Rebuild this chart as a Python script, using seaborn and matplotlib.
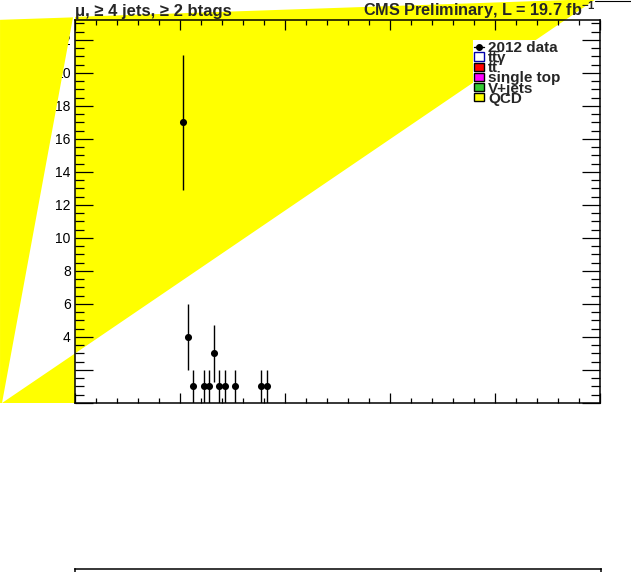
import matplotlib
matplotlib.use("Agg")
import matplotlib.pyplot as plt
from matplotlib.lines import Line2D
from matplotlib.patches import Patch
from matplotlib.ticker import MultipleLocator
import numpy as np
import pandas as pd
import seaborn as sns

# 2012 data: bin centres, counts and their error bars
bin_centres = [102.5, 107.5, 112.5, 122.5, 127.5, 132.5, 137.5, 142.5, 152.5, 177.5, 182.5]
counts = [17, 4, 1, 1, 1, 3, 1, 1, 1, 1, 1]
count_err = [4.1, 2.0, 1.0, 1.0, 1.0, 1.7, 1.0, 1.0, 1.0, 1.0, 1.0]
bin_half_width = 2.5

# the QCD fill as the broken stack drew it (axis units, spills past the frame)
qcd_main_x = [0.0, 496.2, 0.0]
qcd_main_y = [23.39, 24.47, 3.0]
qcd_low_x = [-69.5, 0.0, 0.0]
qcd_low_y = [0.0, 3.0, 0.0]
qcd_strip_x = [-71.4, -1.9, -69.5, -71.4]
qcd_strip_y = [23.21, 23.36, 0.0, 0.0]

legend_labels = ["2012 data", "tt\u0304γ", "tt\u0304", "single top", "V+jets", "QCD"]
legend_faces = ["white", "#ff0000", "#ff00ff", "#33cc33", "#ffff00"]
legend_edges = ["#0000aa", "black", "black", "black", "black"]

x_range = (0, 500)
y_range = (0, 23.2)
y_labels = [2, 4, 6, 8, 10, 12, 14, 16, 18, 20, 22]

sns.set_style("ticks")
plt.rcParams["font.family"] = ["Liberation Sans", "DejaVu Sans"]
plt.rcParams["mathtext.fontset"] = "custom"
plt.rcParams["mathtext.rm"] = "Liberation Sans"
plt.rcParams["mathtext.bf"] = "Liberation Sans:bold"
plt.rcParams["mathtext.it"] = "Liberation Sans:italic"

W, H = 631, 572
fig = plt.figure(figsize=(W / 100, H / 100), dpi=100)
fig.patch.set_facecolor("white")
rect = [75 / W, 1 - 403 / H, 525 / W, 383 / H]

# tick labels live underneath so the fill can hide them
ax_lab = fig.add_axes(rect, zorder=0)
ax_lab.set_xlim(*x_range)
ax_lab.set_ylim(*y_range)
ax_lab.set_xticks([])
ax_lab.set_yticks(y_labels)
ax_lab.set_yticklabels([str(v) for v in y_labels])
ax_lab.tick_params(axis="y", length=0, pad=3, labelsize=10, labelcolor="black")
for sp in ax_lab.spines.values():
    sp.set_visible(False)
ax_lab.set_facecolor("white")

ax = fig.add_axes(rect, zorder=1)
ax.set_facecolor("none")
ax.set_xlim(*x_range)
ax.set_ylim(*y_range)

for px, py in [(qcd_main_x, qcd_main_y), (qcd_low_x, qcd_low_y), (qcd_strip_x, qcd_strip_y)]:
    ax.fill(px, py, color="#ffff00", lw=0, clip_on=False, zorder=0.5)

df = pd.DataFrame({"x": bin_centres, "n": counts, "err": count_err})
ax.errorbar(df["x"], df["n"], yerr=df["err"], xerr=bin_half_width, fmt="none",
            ecolor="black", elinewidth=1.0, capsize=0, zorder=3)
sns.scatterplot(data=df, x="x", y="n", ax=ax, color="black", s=26,
                edgecolor="black", linewidth=0, zorder=4, legend=False)
ax.set_xlabel("")
ax.set_ylabel("")

ax.xaxis.set_major_locator(MultipleLocator(100))
ax.xaxis.set_minor_locator(MultipleLocator(20))
ax.yaxis.set_major_locator(MultipleLocator(2))
ax.yaxis.set_minor_locator(MultipleLocator(0.5))
ax.tick_params(axis="x", which="major", direction="in", length=7.2, width=0.9,
               top=True, bottom=True, labelbottom=False, color="black")
ax.tick_params(axis="x", which="minor", direction="in", length=3.6, width=0.9,
               top=True, bottom=True, color="black")
ax.tick_params(axis="y", which="major", direction="in", length=13, width=0.9,
               left=True, right=True, labelleft=False, color="black")
ax.tick_params(axis="y", which="minor", direction="in", length=6.5, width=0.9,
               left=True, right=True, color="black")
for sp in ax.spines.values():
    sp.set_visible(True)
    sp.set_color("black")
    sp.set_linewidth(1.1)

handles = [Line2D([], [], color="black", marker="o", markersize=4, lw=1.0)]
for fc, ec in zip(legend_faces, legend_edges):
    handles.append(Patch(facecolor=fc, edgecolor=ec, linewidth=1.0))
leg = ax.legend(handles, legend_labels, loc="upper left",
                bbox_to_anchor=(473 / W, 1 - 40 / H), bbox_transform=fig.transFigure,
                prop={"weight": "bold", "size": 11}, frameon=True, fancybox=False,
                facecolor="white", edgecolor="none", framealpha=1,
                borderpad=0.05, borderaxespad=0, labelspacing=-0.25,
                handlelength=0.68, handleheight=0.46, handletextpad=0.25)
leg.set_zorder(5)

# lower pad frame, mostly off the canvas
ax_pad = fig.add_axes([75 / W, -0.1, 526 / W, 0.1 + 3 / H])
ax_pad.set_facecolor("none")
ax_pad.set_xticks([])
ax_pad.set_yticks([])
for sp in ax_pad.spines.values():
    sp.set_color("black")
    sp.set_linewidth(1.1)

fig.add_artist(Line2D([595 / W, 1.0], [1 - 1.2 / H, 1 - 1.2 / H], color="black",
                      lw=0.8, transform=fig.transFigure))

fig.text(75 / W, 1 - 16 / H, "μ, ≥ 4 jets, ≥ 2 btags", ha="left", va="baseline",
         fontsize=12, fontweight="bold")
fig.text(596 / W, 1 - 16 / H, r"CMS Preliminary, L = 19.7 fb$^{\mathbf{-1}}$",
         ha="right", va="baseline", fontsize=11.7, fontweight="bold")

fig.savefig("out.png", dpi=100)
